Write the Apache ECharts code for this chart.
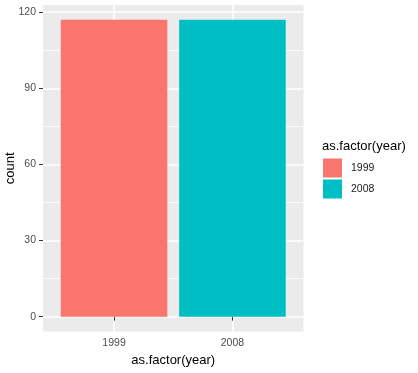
<!DOCTYPE html>
<html>
<head>
<meta charset="utf-8">
<script src="https://cdn.jsdelivr.net/npm/echarts@6/dist/echarts.min.js"></script>
<style>html,body{margin:0;padding:0;background:#fff}#c{width:418px;height:373px}</style>
</head>
<body>
<div id="c"></div>
<script>
const categories = ['1999', '2008'];
const counts = [117, 117];
const colors = ['#F8766D', '#00BFC4'];
const yTicks = [0, 30, 60, 90, 120];
const yMinorTicks = [15, 45, 75, 105];
const xTicks = [1, 2];

const FONT = "'Liberation Sans', Arial, sans-serif";
const gridLeft = 43, gridTop = 5, gridRight = 114.5, gridBottom = 41.5;
const gridW = 418 - gridLeft - gridRight;
const xMin = 0.4, xMax = categories.length + 0.6;
const yMax = Math.max(...counts) * 1.05;
const yMin = -Math.max(...counts) * 0.05;

const chart = echarts.init(document.getElementById('c'), null, {renderer: 'canvas'});

const barSeries = categories.map((c, i) => ({
  name: c,
  type: 'bar',
  data: [[i + 1, counts[i]]],
  barWidth: 0.9 / (xMax - xMin) * gridW,
  barGap: '-100%',
  itemStyle: {color: colors[i]},
  z: 2,
  emphasis: {disabled: true},
  silent: true
}));

const gridLineSeries = {
  type: 'line',
  data: [],
  silent: true,
  markLine: {
    z: 1,
    silent: true,
    symbol: 'none',
    label: {show: false},
    animation: false,
    data: yMinorTicks.map(v => ({yAxis: v, lineStyle: {color: '#ffffff', width: 0.8, type: 'solid'}}))
  }
};

chart.setOption({
  animation: false,
  textStyle: {fontFamily: FONT},
  title: {
    text: 'as.factor(year)',
    left: 322,
    top: 140,
    padding: 0,
    textStyle: {fontFamily: FONT, fontSize: 13, fontWeight: 'normal', color: '#000000'}
  },
  legend: {
    data: categories,
    orient: 'vertical',
    left: 323,
    top: 158.5,
    padding: 0,
    itemWidth: 19,
    itemHeight: 19,
    itemGap: 2,
    icon: 'rect',
    selectedMode: false,
    textStyle: {fontFamily: FONT, fontSize: 10.5, color: '#1a1a1a', padding: [0, 0, 0, 4]}
  },
  grid: {
    left: gridLeft, top: gridTop, right: gridRight, bottom: gridBottom,
    show: true, backgroundColor: '#EBEBEB', borderWidth: 0,
    containLabel: false, outerBoundsMode: 'none'
  },
  xAxis: {
    type: 'value',
    min: xMin, max: xMax,
    name: 'as.factor(year)',
    nameLocation: 'middle',
    nameGap: 22,
    nameMoveOverlap: false,
    nameTextStyle: {fontFamily: FONT, fontSize: 13, color: '#000000'},
    axisLine: {show: false},
    axisTick: {show: true, customValues: xTicks, length: 4, lineStyle: {color: '#333333', width: 1}},
    axisLabel: {customValues: xTicks, formatter: v => categories[Math.round(v) - 1], fontFamily: FONT, fontSize: 10.5, color: '#4D4D4D', margin: 6},
    splitLine: {show: true, lineStyle: {color: '#ffffff', width: 1.6}}
  },
  yAxis: {
    type: 'value',
    min: yMin, max: yMax,
    name: 'count',
    nameLocation: 'middle',
    nameGap: 26,
    nameMoveOverlap: false,
    nameTextStyle: {fontFamily: FONT, fontSize: 13, color: '#000000'},
    axisLine: {show: false},
    axisTick: {show: true, customValues: yTicks, length: 4, lineStyle: {color: '#333333', width: 1}},
    axisLabel: {customValues: yTicks, fontFamily: FONT, fontSize: 10.5, color: '#4D4D4D', margin: 7},
    splitLine: {show: true, lineStyle: {color: '#ffffff', width: 1.6}}
  },
  series: [gridLineSeries, ...barSeries]
});
</script>
</body>
</html>
